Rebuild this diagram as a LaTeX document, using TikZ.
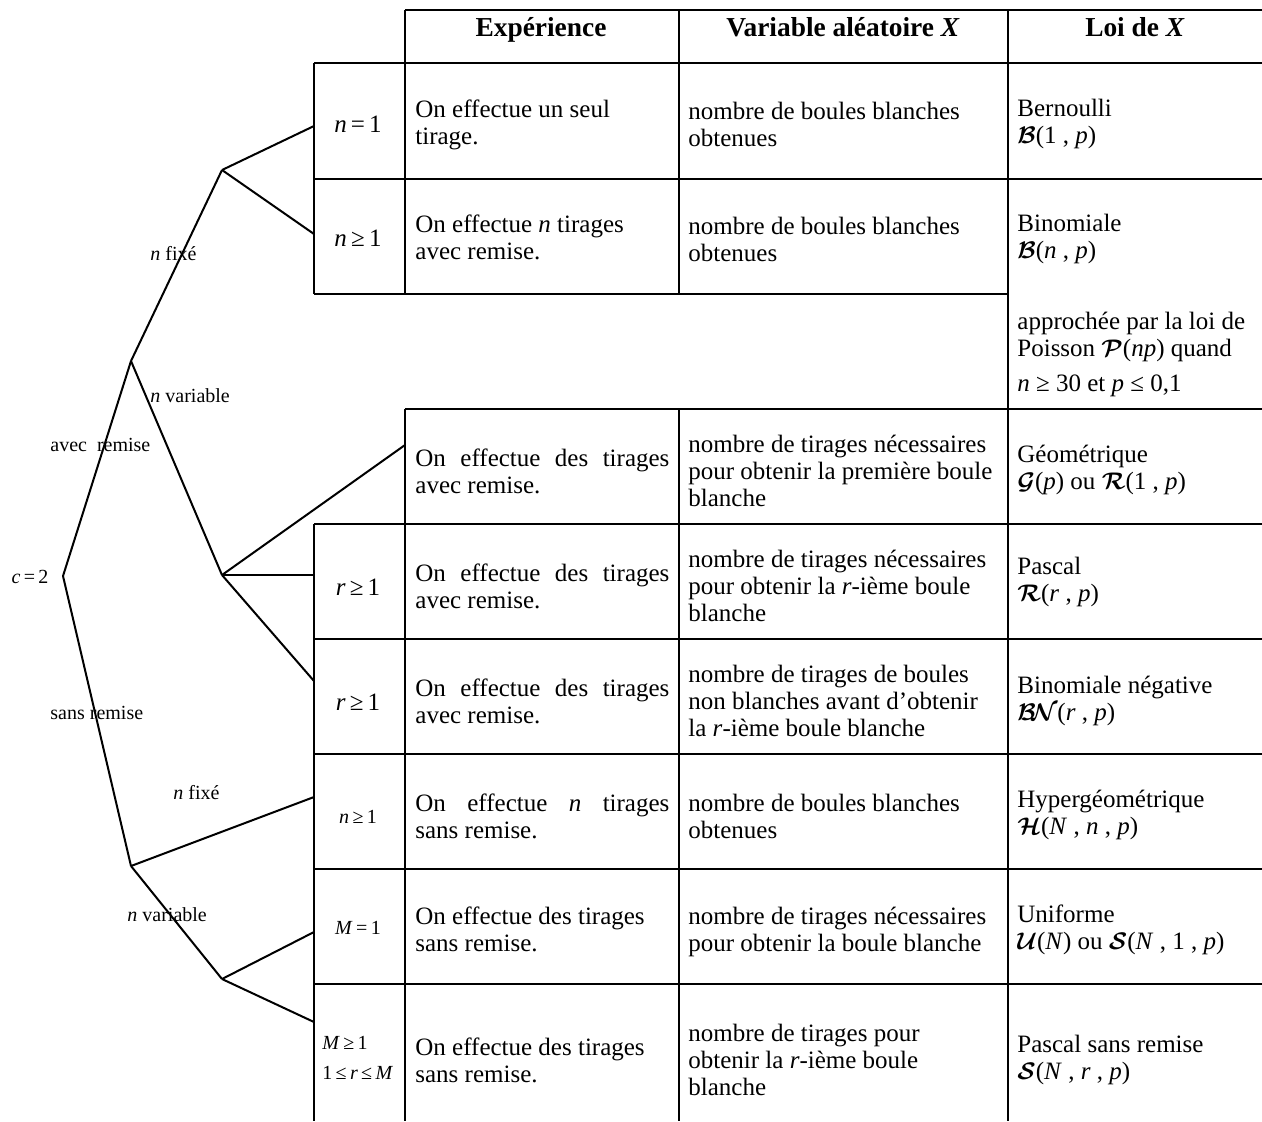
\documentclass[tikz,border=0pt]{standalone}
\usepackage{amsmath}
\usepackage{fontspec}
\setmainfont{Liberation Serif}
\newcommand{\scb}[1]{$\boldsymbol{\mathcal{#1}}$}
\newcommand{\iv}[1]{\textit{#1}}
\begin{document}
\begin{tikzpicture}[x=0.5pt,y=-0.5pt,
  tline/.style={line width=1pt},
  tree/.style={line width=1pt},
  body/.style={inner sep=0pt,anchor=west,align=left,font=\fontsize{12.5}{13.5}\selectfont},
  cond/.style={inner sep=0pt,font=\fontsize{12.5}{13.5}\selectfont},
  small/.style={inner sep=0pt,font=\fontsize{10}{12}\selectfont},
  head/.style={inner sep=0pt,anchor=base,font=\fontsize{13.7}{15}\selectfont\bfseries}]
\useasboundingbox (0,0) rectangle (1262,1121);
% ---------- table lines ----------
\draw[tline] (405,10) -- (1262,10);
\draw[tline] (314,63) -- (1262,63);
\draw[tline] (314,179) -- (1262,179);
\draw[tline] (314,294) -- (1008,294);
\draw[tline] (405,409) -- (1262,409);
\foreach \yy in {524,639,754,869,984} \draw[tline] (314,\yy) -- (1262,\yy);
\draw[tline] (314,63) -- (314,294);
\draw[tline] (314,524) -- (314,1121);
\foreach \xx in {405,679} {\draw[tline] (\xx,10) -- (\xx,294); \draw[tline] (\xx,409) -- (\xx,1121);}
\draw[tline] (1008,10) -- (1008,1121);
% ---------- header ----------
\node[head] (h1) at (541,36) {Expérience};
\node[head] (h2) at (843,36) {Variable aléatoire \textit{X}};
\node[head] (h3) at (1135,36) {Loi de \textit{X}};
% ---------- conditions ----------
\node[cond] (c1) at (358,124) {\iv{n}\,=\,1};
\node[cond] (c2) at (358,238) {\iv{n}\,≥\,1};
\node[cond] (c4) at (358,587) {\iv{r}\,≥\,1};
\node[cond] (c5) at (358,702) {\iv{r}\,≥\,1};
\node[small] (c6) at (358,817) {\iv{n}\,≥\,1};
\node[small] (c7) at (358,928) {\iv{M}\,=\,1};
\node[small,anchor=west] (c8a) at (322,1043) {\iv{M}\,≥\,1};
\node[small,anchor=west] (c8b) at (322,1073) {1\,≤\,\iv{r}\,≤\,\iv{M}};
% ---------- experience ----------
\node[body] (e1) at (415,124.5) {On effectue un seul\\tirage.};
\node[body] (e2) at (415,237.5) {On effectue \iv{n} tirages\\avec remise.};
\node[body] (e3) at (415,471.5) {\makebox[127pt][s]{On effectue des tirages}\\avec remise.};
\node[body] (e4) at (415,586.5) {\makebox[127pt][s]{On effectue des tirages}\\avec remise.};
\node[body] (e5) at (415,701.5) {\makebox[127pt][s]{On effectue des tirages}\\avec remise.};
\node[body] (e6) at (415,816.5) {\makebox[127pt][s]{On effectue \iv{n} tirages}\\sans remise.};
\node[body] (e7) at (415,929) {On effectue des tirages\\sans remise.};
\node[body] (e8) at (415,1060.5) {On effectue des tirages\\sans remise.};
% ---------- variable ----------
\node[body] (v1) at (688,124.5) {nombre de boules blanches\\obtenues};
\node[body] (v2) at (688,239.5) {nombre de boules blanches\\obtenues};
\node[body] (v3) at (688,471) {nombre de tirages nécessaires\\pour obtenir la première boule\\blanche};
\node[body] (v4) at (688,586) {nombre de tirages nécessaires\\pour obtenir la \iv{r}-ième boule\\blanche};
\node[body] (v5) at (688,701) {nombre de tirages de boules\\non blanches avant d'obtenir\\la \iv{r}-ième boule blanche};
\node[body] (v6) at (688,816.5) {nombre de boules blanches\\obtenues};
\node[body] (v7) at (688,931.5) {nombre de tirages nécessaires\\pour obtenir la boule blanche};
\node[body] (v8) at (688,1060) {nombre de tirages pour\\obtenir la \iv{r}-ième boule\\blanche};
% ---------- loi ----------
\node[body] (l1) at (1017,124) {Bernoulli\\\scb{B}(1 , \iv{p})};
\node[body] (l2) at (1017,239) {Binomiale\\\scb{B}(\iv{n} , \iv{p})};
\node[body] (l2b) at (1017,336.5) {approchée par la loi de\\Poisson \scb{P}(\iv{np}) quand};
\node[body] (l2c) at (1017,386) {\iv{n} ≥ 30 et \iv{p} ≤ 0,1};
\node[body] (l3) at (1017,470) {Géométrique\\\scb{G}(\iv{p}) ou \scb{R}(1 , \iv{p})};
\node[body] (l4) at (1017,581.5) {Pascal\\\scb{R}(\iv{r} , \iv{p})};
\node[body] (l5) at (1017,700.5) {Binomiale négative\\$\boldsymbol{\mathcal{B}\!\mathcal{N}}$(\iv{r} , \iv{p})};
\node[body] (l6) at (1017,815) {Hypergéométrique\\\scb{H}(\iv{N} , \iv{n} , \iv{p})};
\node[body] (l7) at (1017,930) {Uniforme\\\scb{U}(\iv{N}) ou \scb{S}(\iv{N} , 1 , \iv{p})};
\node[body] (l8) at (1017,1059.5) {Pascal sans remise\\\scb{S}(\iv{N} , \iv{r} , \iv{p})};
% ---------- tree ----------
\coordinate (root) at (63,576);
\coordinate (A) at (131,361);
\coordinate (S) at (131,866);
\coordinate (F1) at (222,170);
\coordinate (V1) at (222,575);
\coordinate (V2) at (222,979);
\coordinate (t1) at (314,126);
\coordinate (t2) at (314,234);
\coordinate (t3) at (405,445);
\coordinate (t4) at (314,575);
\coordinate (t5) at (314,681);
\coordinate (t6) at (314,797);
\coordinate (t7) at (314,932);
\coordinate (t8) at (314,1022);
\draw[tree] (root) -- (A);
\draw[tree] (root) -- (S);
\draw[tree] (A) -- (F1);
\draw[tree] (A) -- (V1);
\draw[tree] (F1) -- (t1);
\draw[tree] (F1) -- (t2);
\draw[tree] (V1) -- (t3);
\draw[tree] (V1) -- (t4);
\draw[tree] (V1) -- (t5);
\draw[tree] (S) -- (t6);
\draw[tree] (S) -- (V2);
\draw[tree] (V2) -- (t7);
\draw[tree] (V2) -- (t8);
% ---------- tree labels ----------
\node[small] (lc) at (30,577) {\iv{c}\,=\,2};
\node[small,anchor=west] (la) at (50,445) {avec\ \ remise};
\node[small,anchor=west] (lf1) at (150,254) {\iv{n} fixé};
\node[small,anchor=west] (lv1) at (150,396) {\iv{n} variable};
\node[small,anchor=west] (ls) at (50,713) {sans remise};
\node[small,anchor=west] (lf2) at (173,793) {\iv{n} fixé};
\node[small,anchor=west] (lv2) at (127,915) {\iv{n} variable};
\end{tikzpicture}
\end{document}
